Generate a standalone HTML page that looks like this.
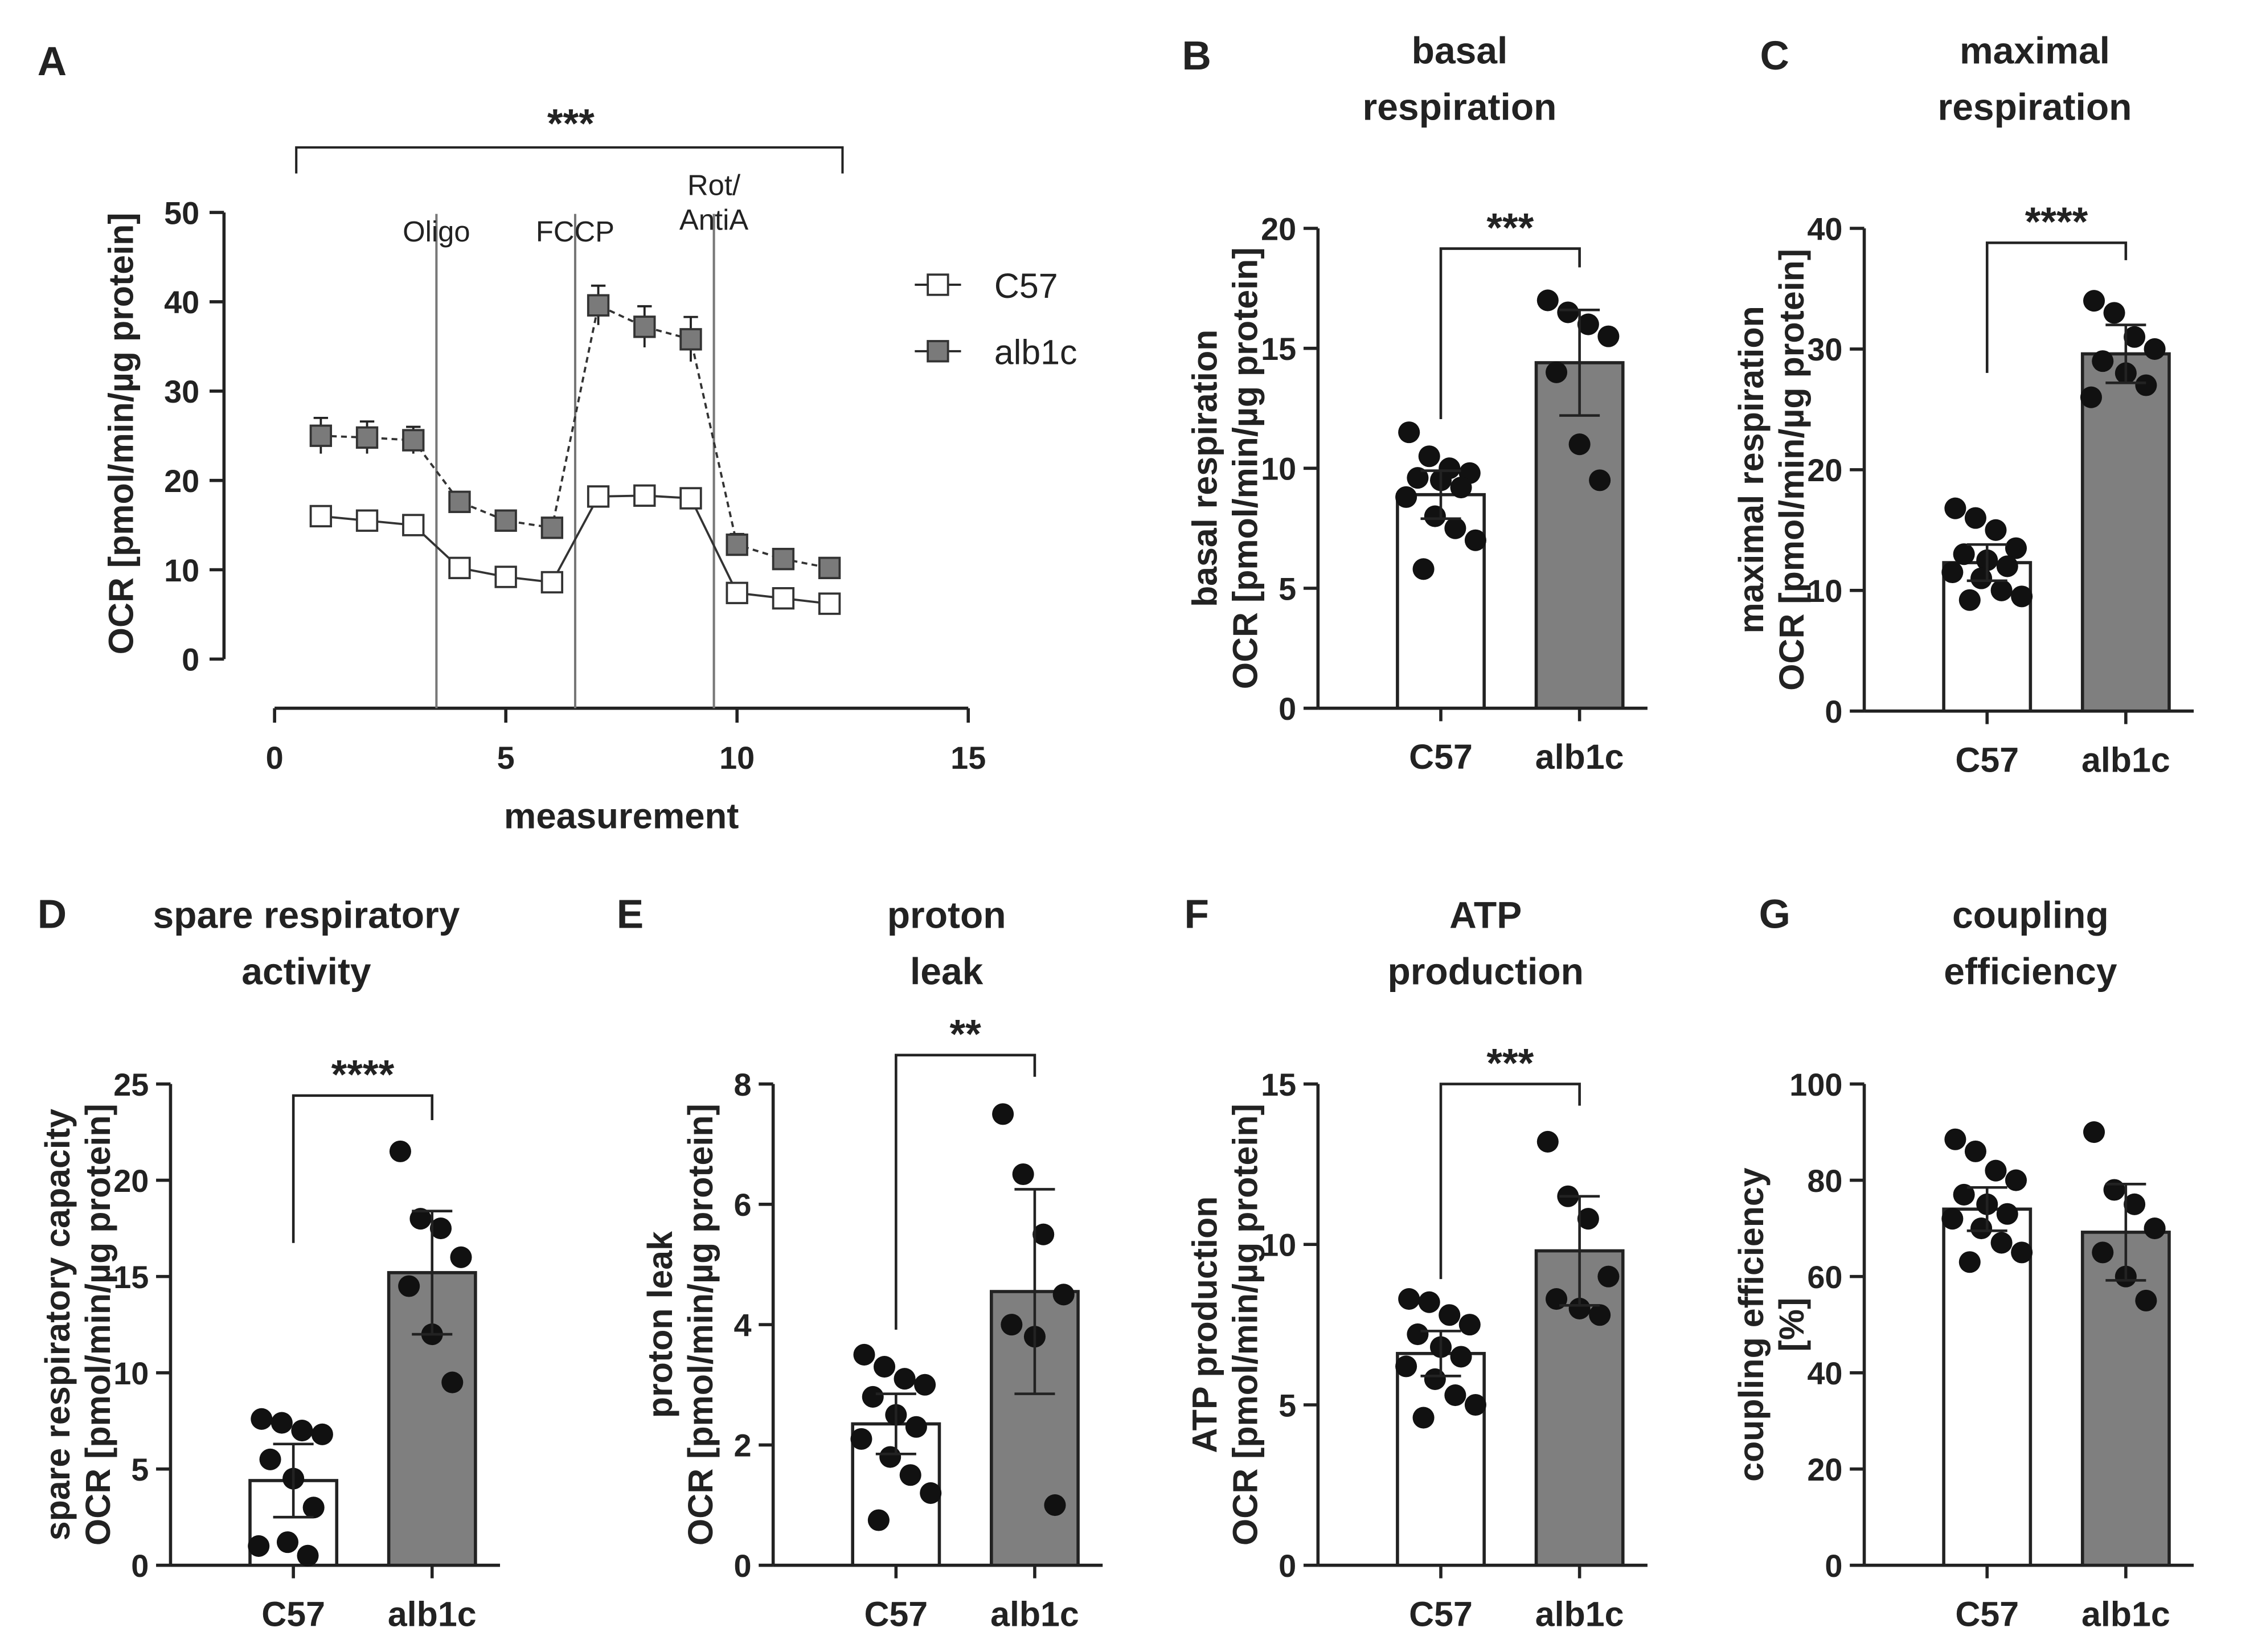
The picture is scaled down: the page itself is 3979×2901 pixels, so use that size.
<!DOCTYPE html>
<html><head><meta charset="utf-8"><style>
html,body{margin:0;padding:0;background:#fff}
svg{display:block}
text{font-family:"Liberation Sans",Arial,sans-serif;font-weight:bold;fill:#222}
</style></head><body>
<svg id="s" xmlns="http://www.w3.org/2000/svg" width="3979" height="2901" viewBox="0 0 1568 1143" preserveAspectRatio="none"></svg>
<script>
// Panel A data
const measurements=[1,2,3,4,5,6,7,8,9,10,11,12];
const c57Line=[16,15.5,15,10.2,9.2,8.6,18.2,18.3,18,7.4,6.8,6.2];
const alb1cLine=[25,24.8,24.5,17.6,15.5,14.7,39.6,37.2,35.8,12.8,11.2,10.2];
const alb1cErr=[2,1.8,1.5,0.8,0.7,0.8,2.2,2.3,2.5,1.2,0.8,0.7];
const c57Err=[0.8,0.6,0.6,0.5,0.5,0.5,0.8,0.7,0.8,0.5,0.4,0.4];
const aYTicks=[0,10,20,30,40,50];
const aXTicks=[0,5,10,15];
const injections=[3.5,6.5,9.5];
const groups=["C57","alb1c"];
// bar panels
const bMeans=[8.9,14.4],bErr=[1.0,2.2],bC57=[11.5,10.5,10,9.8,9.6,9.5,9.2,8.8,8,7.5,7,5.8],bAlb=[17,16.5,16,15.5,14,11,9.5];
const cMeans=[12.3,29.6],cErr=[1.5,2.4],cC57=[16.8,16,15,13.5,13,12.5,12,11.5,11,10,9.5,9.2],cAlb=[34,33,31,30,29,28,27,26];
const dMeans=[4.4,15.2],dErr=[1.9,3.2],dC57=[7.6,7.4,7,6.8,5.5,4.5,3,1,1.2,0.5],dAlb=[21.5,18,17.5,16,14.5,12,9.5];
const eMeans=[2.35,4.55],eErr=[0.5,1.7],eC57=[3.5,3.3,3.1,3,2.8,2.5,2.3,2.1,1.8,1.5,1.2,0.75],eAlb=[7.5,6.5,5.5,4.5,4,3.8,1];
const fMeans=[6.6,9.8],fErr=[0.7,1.7],fC57=[8.3,8.2,7.8,7.5,7.2,6.8,6.5,6.2,5.8,5.3,5,4.6],fAlb=[13.2,11.5,10.8,9,8.3,8,7.8];
const gMeans=[74,69.2],gErr=[4.5,10],gC57=[88.5,86,82,80,77,75,73,72,70,67,65,63],gAlb=[90,78,75,70,65,60,55];

const svg=document.getElementById('s');const NS="http://www.w3.org/2000/svg";
function el(tag,attrs,name,txt){const e=document.createElementNS(NS,tag);for(const k in attrs)e.setAttribute(k,attrs[k]);


if(txt!==undefined)e.textContent=txt;svg.appendChild(e);return e;}
const stroke={stroke:'#222','stroke-width':2.2,fill:'none'};
function line(x1,y1,x2,y2,name,w){return el('line',{x1,y1,x2,y2,stroke:'#222','stroke-width':w||2.2},name);}
function text(x,y,t,name,size,anchor,rot){const a={x,y,'font-size':size||24,'text-anchor':anchor||'middle'};if(rot)a.transform=`rotate(-90 ${x} ${y})`;return el('text',a,name,t);}

// Panel A
const ax=v=>190+v*32, ay=v=>456-v*6.18;
text(36,52,'A','panel-label-a',28,'middle');
line(155,147,155,456,'a-y-axis');
aYTicks.forEach(t=>{line(145,ay(t),155,ay(t),'a-y-tick');text(138,ay(t)+8,t,'a-y-tick-label',22,'end');});
line(190,490,670,490,'a-x-axis');
aXTicks.forEach(t=>{line(ax(t),490,ax(t),500,'a-x-tick');text(ax(t),532,t,'a-x-tick-label',22);});
text(430,573,'measurement','a-x-axis-title',25);
text(92,300,'OCR [pmol/min/µg protein]','a-y-axis-title',24,'middle',true);
injections.forEach(v=>el('line',{x1:ax(v),y1:148,x2:ax(v),y2:490,stroke:'#777','stroke-width':1.6},'injection-line'));
text(ax(3.5),167,'Oligo','oligo-label',20).style.fontWeight='normal';
text(ax(6.5),167,'FCCP','fccp-label',20).style.fontWeight='normal';
text(ax(9.5),135,'Rot/','rot-label',20).style.fontWeight='normal';
text(ax(9.5),159,'AntiA','antia-label',20).style.fontWeight='normal';
el('path',{d:'M205,120 V102 H583 V120',...stroke,'stroke-width':1.6},'a-significance-bracket');
text(395,95,'***','a-significance-stars',28);
function series(vals,errs,fill,dash,name){
  let d='';vals.forEach((v,i)=>{d+=(i?'L':'M')+ax(measurements[i])+','+ay(v);});
  el('path',{d,stroke:'#333','stroke-width':1.5,fill:'none','stroke-dasharray':dash},name+'-line');
  vals.forEach((v,i)=>{const x=ax(measurements[i]);
    line(x,ay(v+errs[i]),x,ay(v-errs[i]),name+'-error',1.5);line(x-5,ay(v+errs[i]),x+5,ay(v+errs[i]),name+'-error-cap',1.5);
    el('rect',{x:x-7,y:ay(v)-7,width:14,height:14,fill,stroke:'#333','stroke-width':1.5},name+'-marker');});
}
series(c57Line,c57Err,'#fff','','c57');
series(alb1cLine,alb1cErr,'#7a7a7a','4,3','alb1c');
line(633,197,665,197,'legend-c57-line',1.5);el('rect',{x:642,y:190,width:14,height:14,fill:'#fff',stroke:'#333','stroke-width':1.5},'legend-c57-marker');
text(688,206,'C57','legend-c57-label',24,'start').style.fontWeight='normal';
line(633,243,665,243,'legend-alb1c-line',1.5);el('rect',{x:642,y:236,width:14,height:14,fill:'#7a7a7a',stroke:'#333','stroke-width':1.5},'legend-alb1c-marker');
text(688,252,'alb1c','legend-alb1c-label',24,'start').style.fontWeight='normal';

const jitter=[-22,-8,6,20,-16,0,14,-24,-4,10,24,-12];
function barPanel(p){
  const y=v=>p.y0-(p.y0-p.yTop)*v/p.max;
  const cx=[p.ax+85,p.ax+181];
  text(p.lx,p.ly,p.letter,'panel-label-'+p.letter.toLowerCase(),28);
  text(p.tx,p.ty,p.t1,p.id+'-title-line1',26);text(p.tx,p.ty+39,p.t2,p.id+'-title-line2',26);
  line(p.ax,p.yTop,p.ax,p.y0,p.id+'-y-axis');
  p.ticks.forEach(t=>{line(p.ax-10,y(t),p.ax,y(t),p.id+'-y-tick');text(p.ax-15,y(t)+8,t,p.id+'-y-tick-label',22,'end');});
  line(p.ax,p.y0,p.ax+228,p.y0,p.id+'-x-axis');
  p.yt.forEach((t,i)=>text(p.ax-70+i*28,(p.yTop+p.y0)/2,t,p.id+'-y-axis-title',24,'middle',true));
  p.means.forEach((m,i)=>{
    el('rect',{x:cx[i]-30,y:y(m),width:60,height:p.y0-y(m),fill:i?'#7f7f7f':'#fff',stroke:'#222','stroke-width':2.2},p.id+'-bar-'+groups[i].toLowerCase());
    line(cx[i],p.y0,cx[i],p.y0+9,p.id+'-x-tick');
    text(cx[i],p.y0+42,groups[i],p.id+'-x-label-'+groups[i].toLowerCase(),24);
  });
  [p.c,p.a].forEach((pts,g)=>pts.forEach((v,i)=>el('circle',{cx:cx[g]+jitter[i%12],cy:y(v),r:7.5,fill:'#111'},p.id+'-point-'+groups[g].toLowerCase())));
  p.means.forEach((m,i)=>{const e=p.err[i];
    line(cx[i],y(m+e),cx[i],y(m-e),p.id+'-error',1.8);
    line(cx[i]-14,y(m+e),cx[i]+14,y(m+e),p.id+'-error-cap',1.8);line(cx[i]-14,y(m-e),cx[i]+14,y(m-e),p.id+'-error-cap',1.8);});
  if(p.stars){el('path',{d:`M${cx[0]},${p.bl} V${p.by} H${cx[1]} V${p.br}`,...stroke,'stroke-width':1.8},p.id+'-significance-bracket');
    text((cx[0]+cx[1])/2,p.by-5,p.stars,p.id+'-significance-stars',28);}
}
barPanel({id:'b',letter:'B',lx:828,ly:48,tx:1010,ty:44,t1:'basal',t2:'respiration',ax:912,y0:490,yTop:158,max:20,ticks:[0,5,10,15,20],yt:['basal respiration','OCR [pmol/min/µg protein]'],means:bMeans,err:bErr,c:bC57,a:bAlb,stars:'***',by:172,bl:290,br:185});
barPanel({id:'c',letter:'C',lx:1228,ly:48,tx:1408,ty:44,t1:'maximal',t2:'respiration',ax:1290,y0:492,yTop:158,max:40,ticks:[0,10,20,30,40],yt:['maximal respiration','OCR [pmol/min/µg protein]'],means:cMeans,err:cErr,c:cC57,a:cAlb,stars:'****',by:168,bl:258,br:180});
barPanel({id:'d',letter:'D',lx:36,ly:642,tx:212,ty:642,t1:'spare respiratory',t2:'activity',ax:118,y0:1083,yTop:750,max:25,ticks:[0,5,10,15,20,25],yt:['spare respiratory capacity','OCR [pmol/min/µg protein]'],means:dMeans,err:dErr,c:dC57,a:dAlb,stars:'****',by:758,bl:860,br:775});
barPanel({id:'e',letter:'E',lx:436,ly:642,tx:655,ty:642,t1:'proton',t2:'leak',ax:535,y0:1083,yTop:750,max:8,ticks:[0,2,4,6,8],yt:['proton leak','OCR [pmol/min/µg protein]'],means:eMeans,err:eErr,c:eC57,a:eAlb,stars:'**',by:730,bl:920,br:745});
barPanel({id:'f',letter:'F',lx:828,ly:642,tx:1028,ty:642,t1:'ATP',t2:'production',ax:912,y0:1083,yTop:750,max:15,ticks:[0,5,10,15],yt:['ATP production','OCR [pmol/min/µg protein]'],means:fMeans,err:fErr,c:fC57,a:fAlb,stars:'***',by:750,bl:885,br:765});
barPanel({id:'g',letter:'G',lx:1228,ly:642,tx:1405,ty:642,t1:'coupling',t2:'efficiency',ax:1290,y0:1083,yTop:750,max:100,ticks:[0,20,40,60,80,100],yt:['coupling efficiency','[%]'],means:gMeans,err:gErr,c:gC57,a:gAlb,stars:null});
</script>
</body></html>
